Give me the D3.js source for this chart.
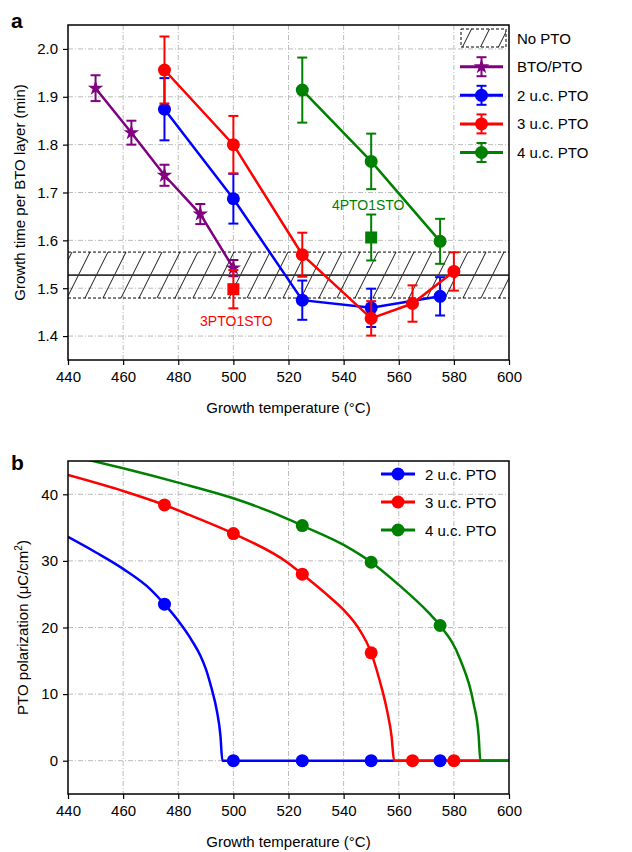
<!DOCTYPE html>
<html>
<head>
<meta charset="utf-8">
<script src="https://cdn.jsdelivr.net/npm/d3@7"></script>
<style>
  body { margin: 0; background: #fff; }
  svg text { font-family: "Liberation Sans", Arial, Helvetica, sans-serif; }
</style>
</head>
<body>
<div id="chart"></div>
<script>
// ---- panel a: growth time per BTO layer ----
var tempBTO = [450, 463, 475, 488, 500]
var timeBTO = [1.918, 1.825, 1.736, 1.655, 1.542]
var errBTO = [0.027, 0.025, 0.022, 0.021, 0.017]

var temp2 = [475, 500, 525, 550, 575]
var time2 = [1.874, 1.687, 1.475, 1.459, 1.483]
var err2 = [0.065, 0.052, 0.041, 0.04, 0.04]

var temp3 = [475, 500, 525, 550, 565, 580]
var time3 = [1.956, 1.80, 1.570, 1.437, 1.468, 1.535]
var err3 = [0.07, 0.06, 0.046, 0.036, 0.038, 0.04]

var temp4 = [525, 550, 575]
var time4 = [1.914, 1.765, 1.598]
var err4 = [0.068, 0.058, 0.047]

// superlattice points (squares)
var sqTemp = [500, 550]
var sqTime = [1.498, 1.606]
var sqErr = [0.04, 0.048]
var sqLabels = ["3PTO1STO", "4PTO1STO"]

// no PTO band
var noPtoMean = 1.5275
var noPtoErr = 0.048

var tempTicks = [440, 460, 480, 500, 520, 540, 560, 580, 600]
var timeTicks = [1.4, 1.5, 1.6, 1.7, 1.8, 1.9, 2.0]

// ---- panel b: PTO polarization ----
var polT2 = [475, 500, 525, 550, 575]
var polP2 = [23.5, 0, 0, 0, 0]
var polT3 = [475, 500, 525, 550, 565, 580]
var polP3 = [38.4, 34.1, 28.0, 16.2, 0, 0]
var polT4 = [525, 550, 575]
var polP4 = [35.3, 29.8, 20.3]

// fitted curves
var fitT2 = [440, 450, 460, 470, 475, 480, 485, 488, 490, 492, 494, 495.3, 496, 600]
var fitP2 = [33.6, 31.3, 28.8, 25.7, 23.5, 21.0, 18.0, 15.8, 13.8, 11.0, 7.5, 3.8, 0, 0]
var fitT3 = [440, 460, 475, 484, 500, 520, 525, 535, 540, 545, 550, 553, 555.7, 557.4, 558.3, 600]
var fitP3 = [42.9, 40.5, 38.4, 36.9, 34.1, 29.65, 28.0, 24.55, 22.65, 20.15, 16.2, 12.15, 7.65, 3.65, 0, 0]
var fitT4 = [446, 460, 480, 500, 520, 525, 540, 550, 560, 571, 575, 582.3, 587.1, 589, 589.6, 600]
var fitP4 = [45.3, 43.9, 41.75, 39.4, 36.25, 35.3, 32.4, 29.8, 26.4, 22.15, 20.3, 15.2, 8.7, 3.7, 0, 0]

var polTicks = [0, 10, 20, 30, 40]

var purple = "#800080", blue = "#0000ff", red = "#ff0000", green = "#008000"

var W = 632, H = 852
var svg = d3.select("#chart").append("svg")
    .attr("width", W)
    .attr("height", H)

var defs = svg.append("defs")
var hatch = defs.append("pattern")
    .attr("id", "hatch")
    .attr("patternUnits", "userSpaceOnUse")
    .attr("width", 18)
    .attr("height", 36)
hatch.append("path")
    .attr("d", "M-9,18 L0,0 M0,36 L18,0 M18,36 L27,18")
    .attr("stroke", "#000")
    .attr("stroke-width", 0.9)

var left = 68, right = 509

function zip(a, b) { return a.map((v, i) => [v, b[i]]) }

function frame(g, x, y, yTicks, yFmt, top, bottom, clipId) {
    defs.append("clipPath").attr("id", clipId)
        .append("rect")
        .attr("x", left).attr("y", top)
        .attr("width", right - left).attr("height", bottom - top)

    // grid
    g.append("g").selectAll("line.gx")
        .data(tempTicks.slice(1, -1))
        .enter().append("line")
        .attr("x1", d => x(d)).attr("x2", d => x(d))
        .attr("y1", top).attr("y2", bottom)
        .attr("stroke", "#bbb").attr("stroke-width", 1)
        .attr("stroke-dasharray", "5,2,1,2")
    g.append("g").selectAll("line.gy")
        .data(yTicks)
        .enter().append("line")
        .attr("x1", left).attr("x2", right)
        .attr("y1", d => y(d)).attr("y2", d => y(d))
        .attr("stroke", "#bbb").attr("stroke-width", 1)
        .attr("stroke-dasharray", "5,2,1,2")

    var xa = g.append("g")
        .attr("transform", "translate(0," + bottom + ")")
        .call(d3.axisBottom(x).tickValues(tempTicks).tickSize(5).tickSizeOuter(0).tickPadding(6))
    var ya = g.append("g")
        .attr("transform", "translate(" + left + ",0)")
        .call(d3.axisLeft(y).tickValues(yTicks).tickFormat(yFmt).tickSize(5).tickSizeOuter(0).tickPadding(5))
    ;[xa, ya].forEach(a => {
        a.select(".domain").remove()
        a.selectAll("text").attr("font-size", 15).attr("fill", "#000")
        a.selectAll("line").attr("stroke", "#000").attr("stroke-width", 1.2)
    })

    g.append("text")
        .attr("x", (left + right) / 2)
        .attr("y", bottom + 53)
        .attr("text-anchor", "middle")
        .attr("font-size", 15)
        .text("Growth temperature (°C)")
}

function border(g, top, bottom) {
    g.append("rect")
        .attr("x", left).attr("y", top)
        .attr("width", right - left).attr("height", bottom - top)
        .attr("fill", "none").attr("stroke", "#000").attr("stroke-width", 1.5)
}

function errorBars(g, pts, x, y, color) {
    var eb = g.append("g").attr("stroke", color).attr("stroke-width", 2)
    pts.forEach(p => {
        var cx = x(p[0])
        eb.append("line").attr("x1", cx).attr("x2", cx)
            .attr("y1", y(p[1] - p[2])).attr("y2", y(p[1] + p[2]))
        eb.append("line").attr("x1", cx - 5).attr("x2", cx + 5)
            .attr("y1", y(p[1] - p[2])).attr("y2", y(p[1] - p[2]))
        eb.append("line").attr("x1", cx - 5).attr("x2", cx + 5)
            .attr("y1", y(p[1] + p[2])).attr("y2", y(p[1] + p[2]))
    })
}

// ================= panel a =================
var topA = 25, bottomA = 360
var xA = d3.scaleLinear().domain([440, 600]).range([left, right])
var yA = d3.scaleLinear().domain([1.35, 2.05]).range([bottomA, topA])
var gA = svg.append("g")

frame(gA, xA, yA, timeTicks, d3.format(".1f"), topA, bottomA, "clipA")

// No PTO band
var band = gA.append("g")
band.append("rect")
    .attr("x", left).attr("width", right - left)
    .attr("y", yA(noPtoMean + noPtoErr))
    .attr("height", yA(noPtoMean - noPtoErr) - yA(noPtoMean + noPtoErr))
    .attr("fill", "url(#hatch)")
;[noPtoMean + noPtoErr, noPtoMean - noPtoErr].forEach(v => {
    band.append("line")
        .attr("x1", left).attr("x2", right)
        .attr("y1", yA(v)).attr("y2", yA(v))
        .attr("stroke", "#000").attr("stroke-width", 1)
        .attr("stroke-dasharray", "3,2")
})
band.append("line")
    .attr("x1", left).attr("x2", right)
    .attr("y1", yA(noPtoMean)).attr("y2", yA(noPtoMean))
    .attr("stroke", "#333").attr("stroke-width", 1.8)

var seriesA = [
    { t: tempBTO, v: timeBTO, e: errBTO, color: purple, star: true, name: "BTO/PTO" },
    { t: temp2, v: time2, e: err2, color: blue, name: "2 u.c. PTO" },
    { t: temp3, v: time3, e: err3, color: red, name: "3 u.c. PTO" },
    { t: temp4, v: time4, e: err4, color: green, name: "4 u.c. PTO" }
]

var lineA = d3.line().x(d => xA(d[0])).y(d => yA(d[1]))
var starSym = d3.symbol().type(d3.symbolStar).size(75)

seriesA.forEach(s => {
    var pts = s.t.map((t, i) => [t, s.v[i], s.e[i]])
    var g = gA.append("g")
    g.append("path")
        .attr("d", lineA(pts))
        .attr("fill", "none").attr("stroke", s.color).attr("stroke-width", 2.5)
    errorBars(g, pts, xA, yA, s.color)
    if (s.star) {
        g.selectAll("path.m").data(pts).enter().append("path")
            .attr("transform", d => "translate(" + xA(d[0]) + "," + yA(d[1]) + ")")
            .attr("d", starSym).attr("fill", s.color)
    } else {
        g.selectAll("circle").data(pts).enter().append("circle")
            .attr("cx", d => xA(d[0])).attr("cy", d => yA(d[1]))
            .attr("r", 6.5).attr("fill", s.color)
    }
})

// superlattice squares
var sqColors = [red, green]
sqTemp.forEach((t, i) => {
    var g = gA.append("g")
    errorBars(g, [[t, sqTime[i], sqErr[i]]], xA, yA, sqColors[i])
    g.append("rect")
        .attr("x", xA(t) - 6).attr("y", yA(sqTime[i]) - 6)
        .attr("width", 12).attr("height", 12)
        .attr("fill", sqColors[i])
})
gA.append("text").attr("x", xA(500) + 3).attr("y", 326)
    .attr("text-anchor", "middle").attr("font-size", 14).attr("fill", red)
    .text(sqLabels[0])
gA.append("text").attr("x", xA(550) - 3).attr("y", 210)
    .attr("text-anchor", "middle").attr("font-size", 14).attr("fill", green)
    .text(sqLabels[1])

// legend a
var legA = gA.append("g")
legA.append("rect")
    .attr("x", 461).attr("y", 29).attr("width", 45).attr("height", 18)
    .attr("fill", "#fff")
legA.append("rect")
    .attr("x", 461).attr("y", 29).attr("width", 45).attr("height", 18)
    .attr("fill", "url(#hatch)").attr("stroke", "#000").attr("stroke-width", 1)
    .attr("stroke-dasharray", "3,2")
legA.append("text").attr("x", 517).attr("y", 44).attr("font-size", 15).text("No PTO")
seriesA.forEach((s, i) => {
    var ly = 66.7 + i * 28.6
    var g = legA.append("g")
    g.append("line").attr("x1", 460).attr("x2", 503).attr("y1", ly).attr("y2", ly)
        .attr("stroke", s.color).attr("stroke-width", 3)
    g.append("line").attr("x1", 481.5).attr("x2", 481.5).attr("y1", ly - 9.5).attr("y2", ly + 9.5)
        .attr("stroke", s.color).attr("stroke-width", 2)
    ;[ly - 9.5, ly + 9.5].forEach(cy => {
        g.append("line").attr("x1", 476.5).attr("x2", 486.5).attr("y1", cy).attr("y2", cy)
            .attr("stroke", s.color).attr("stroke-width", 2)
    })
    if (s.star) {
        g.append("path").attr("transform", "translate(481.5," + ly + ")")
            .attr("d", starSym).attr("fill", s.color)
    } else {
        g.append("circle").attr("cx", 481.5).attr("cy", ly).attr("r", 6.5).attr("fill", s.color)
    }
    g.append("text").attr("x", 517).attr("y", ly + 5.5).attr("font-size", 15).text(s.name)
})

border(gA, topA, bottomA)

gA.append("text")
    .attr("transform", "translate(25," + (topA + bottomA) / 2 + ") rotate(-90)")
    .attr("text-anchor", "middle").attr("font-size", 15)
    .text("Growth time per BTO layer (min)")

svg.append("text").attr("x", 11).attr("y", 28)
    .attr("font-size", 21).attr("font-weight", "bold").text("a")

// ================= panel b =================
var topB = 461, bottomB = 794
var xB = d3.scaleLinear().domain([440, 600]).range([left, right])
var yB = d3.scaleLinear().domain([-5, 45]).range([bottomB, topB])
var gB = svg.append("g")

frame(gB, xB, yB, polTicks, d3.format("d"), topB, bottomB, "clipB")

var seriesB = [
    { ft: fitT2, fp: fitP2, t: polT2, p: polP2, color: blue, name: "2 u.c. PTO" },
    { ft: fitT3, fp: fitP3, t: polT3, p: polP3, color: red, name: "3 u.c. PTO" },
    { ft: fitT4, fp: fitP4, t: polT4, p: polP4, color: green, name: "4 u.c. PTO" }
]

var lineB = d3.line().x(d => xB(d[0])).y(d => yB(d[1])).curve(d3.curveMonotoneX)
var curves = gB.append("g").attr("clip-path", "url(#clipB)")
seriesB.forEach(s => {
    curves.append("path")
        .attr("d", lineB(zip(s.ft, s.fp)))
        .attr("fill", "none").attr("stroke", s.color).attr("stroke-width", 2.5)
})
seriesB.forEach(s => {
    gB.append("g").selectAll("circle").data(zip(s.t, s.p)).enter().append("circle")
        .attr("cx", d => xB(d[0])).attr("cy", d => yB(d[1]))
        .attr("r", 6.5).attr("fill", s.color)
})

// legend b
seriesB.forEach((s, i) => {
    var ly = 474 + i * 28
    var g = gB.append("g")
    g.append("line").attr("x1", 381).attr("x2", 415).attr("y1", ly).attr("y2", ly)
        .attr("stroke", s.color).attr("stroke-width", 3)
    g.append("circle").attr("cx", 398).attr("cy", ly).attr("r", 6.5).attr("fill", s.color)
    g.append("text").attr("x", 425).attr("y", ly + 5.5).attr("font-size", 15).text(s.name)
})

border(gB, topB, bottomB)

var yt = gB.append("text")
    .attr("transform", "translate(28," + (topB + bottomB) / 2 + ") rotate(-90)")
    .attr("text-anchor", "middle").attr("font-size", 15)
yt.append("tspan").text("PTO polarization (μC/cm")
yt.append("tspan").attr("font-size", 10).attr("dy", -6).text("2")
yt.append("tspan").attr("dy", 6).text(")")

svg.append("text").attr("x", 11).attr("y", 470)
    .attr("font-size", 21).attr("font-weight", "bold").text("b")
</script>
</body>
</html>
